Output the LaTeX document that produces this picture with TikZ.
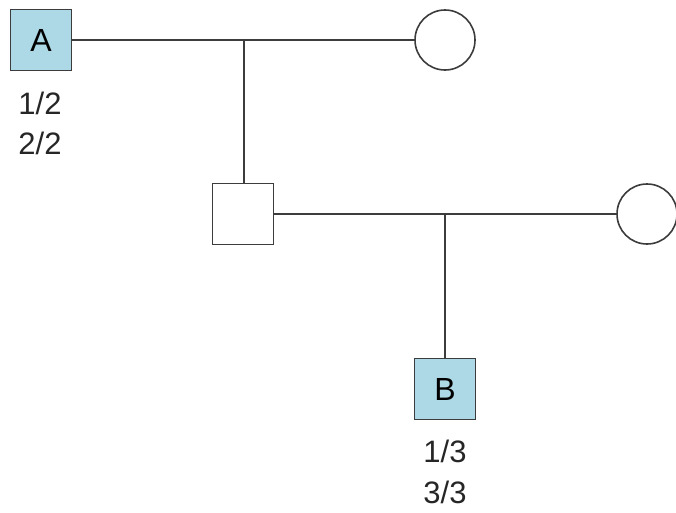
\documentclass[tikz,border=0pt]{standalone}
\usepackage{fontspec}
\setmainfont{Liberation Sans}
\definecolor{affected}{RGB}{173,216,230}
\definecolor{linec}{RGB}{60,60,60}
\begin{document}
\begin{tikzpicture}[x=1pt,y=-1pt,
  person/.style={draw=linec,line width=1.6pt,minimum size=61pt,inner sep=0pt,font=\fontsize{32}{32}\selectfont},
  male/.style={person,rectangle},
  female/.style={person,circle,minimum size=60pt},
  aff/.style={fill=affected},
  rel/.style={draw=linec,line width=1.4pt},
  lbl/.style={font=\fontsize{31}{31}\selectfont,text=black!85}]
\useasboundingbox (0,0) rectangle (676,512);
\node[male,aff] (A) at (41,40) {A};
\node[female] (W1) at (445,40) {};
\node[male] (M) at (243,214) {};
\node[female] (W2) at (647,214) {};
\node[male,aff] (B) at (445,389) {B};
\coordinate (c1) at (244,40);
\coordinate (c2) at (445,214);
\draw[rel] (A) -- (W1);
\draw[rel] (c1) -- (c1 |- M.north);
\draw[rel] (M) -- (W2);
\draw[rel] (c2) -- (B);
\node[lbl] (la1) at (40,103) {1/2};
\node[lbl] (la2) at (40,143) {2/2};
\node[lbl] (lb1) at (445,451) {1/3};
\node[lbl] (lb2) at (445,492) {3/3};
\end{tikzpicture}
\end{document}
